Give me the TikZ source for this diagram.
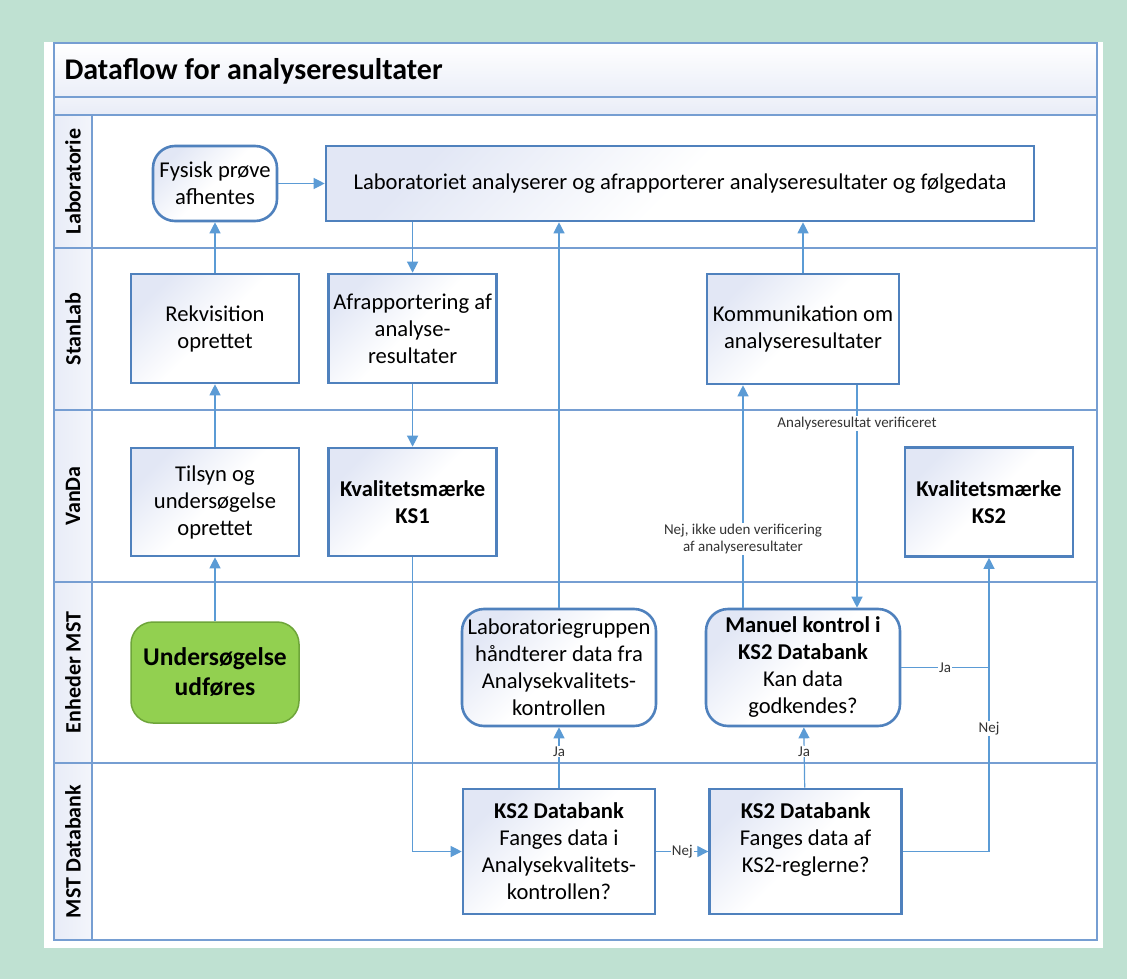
\documentclass[tikz,border=0pt]{standalone}
\usepackage{fontspec}
\setmainfont{Carlito}
\usepackage{tikz}
\usetikzlibrary{positioning,arrows.meta}
\newcommand{\boxfont}{\fontsize{22.6}{27}\selectfont}
\newcommand{\startfont}{\fontsize{25.5}{30}\selectfont}
\newcommand{\lanefont}{\fontsize{22}{26}\selectfont}
\newcommand{\titlefont}{\fontsize{30}{34}\selectfont}
\newcommand{\lblfont}{\fontsize{15}{17.5}\selectfont}
\newcommand{\definitions}{%
  % colour of the page behind the chart
  \definecolor{colBg}{RGB}{191,225,210}
  % colour of lane lines and frame
  \definecolor{colLane}{RGB}{118,158,210}
  % colour of box borders
  \definecolor{colBox}{RGB}{79,129,189}
  % colour of connectors
  \definecolor{colLine}{RGB}{91,155,213}
  % colour of box shading
  \definecolor{colShade}{RGB}{226,231,245}
  % colour of the start box
  \definecolor{colGreen}{RGB}{146,208,80}
  \definecolor{colGreenDraw}{RGB}{110,165,58}

  % corners of the chart frame
  \coordinate (tl) at (54,43);
  \coordinate (br) at (1097,940);
}
\tikzset{
  box/.style={draw=colBox, line width=2.6pt, top color=colShade, bottom color=white,
    middle color=white, shading angle=45, align=center, font=\boxfont, inner sep=2pt},
  roundbox/.style={box, rounded corners=22pt},
  startbox/.style={draw=colGreenDraw, fill=colGreen, line width=1.5pt,
    rounded corners=22pt, align=center, font=\bfseries\startfont},
  flow/.style={draw=colLine, line width=1.2pt, -{Triangle[length=11pt,width=11pt]}},
  link/.style={draw=colLine, line width=1.2pt},
  edgelbl/.style={fill=white, inner sep=1pt, font=\lblfont, text=black!80, align=center},
  lanelbl/.style={rotate=90, font=\bfseries\lanefont},
}

\begin{document}
\begin{tikzpicture}[x=1pt, y=-1pt]

  % define colors and frame
  \definitions

  % page, panel and frame
  \fill[colBg] (0,0) rectangle (1127,979);
  \fill[white] (44,42) rectangle (1103,948);
  \shade[top color=white, bottom color=colShade!70] (tl) rectangle (1097,97);
  \shade[top color=colShade!50, bottom color=colShade!80] (54,97) rectangle (1097,115);
  \shade[left color=colShade!80, right color=colShade!40] (54,115) rectangle (92,940);

  % lane lines
  \draw[colLane, line width=1.2pt] (tl) rectangle (br);
  \foreach \y in {97,115,248,410,582,763}
    \draw[colLane, line width=1.2pt] (54,\y) -- (1097,\y);
  \draw[colLane, line width=1.2pt] (92,115) -- (92,940);

  % add title and lane label for each lane
  \node[font=\bfseries\titlefont, anchor=west] (title) at (61,71) {Dataflow for analyseresultater};
  \node[lanelbl] (laneLab) at (73,181.5) {Laboratorie};
  \node[lanelbl] (laneStan) at (73,329) {StanLab};
  \node[lanelbl] (laneVanDa) at (73,496) {VanDa};
  \node[lanelbl] (laneMST) at (73,672.5) {Enheder MST};
  \node[lanelbl] (laneDB) at (73,851.5) {MST Databank};

  % boxes in the Laboratorie lane
  \node[roundbox, minimum width=124pt, minimum height=75pt] (fysisk) at (215,183.5) {Fysisk prøve\\afhentes};
  \node[box, minimum width=708pt, minimum height=75pt] (lab) at (680,183.5)
    {Laboratoriet analyserer og afrapporterer analyseresultater og følgedata};

  % boxes in the StanLab lane
  \node[box, minimum width=168pt, minimum height=109pt] (rekv) at (215,328.5) {Rekvisition\\oprettet};
  \node[box, minimum width=168pt, minimum height=109pt] (afrap) [right=27pt of rekv] {Afrapportering af\\analyse-\\resultater};
  \node[box, minimum width=192pt, minimum height=110pt] (komm) at (803,329) {Kommunikation om\\analyseresultater};

  % boxes in the VanDa lane
  \node[box, minimum width=168pt, minimum height=108pt] (tilsyn) at (215,502) {Tilsyn og\\undersøgelse\\oprettet};
  \node[box, minimum width=168pt, minimum height=108pt, font=\bfseries\boxfont] (ks1) [right=27pt of tilsyn] {Kvalitetsmærke\\KS1};
  \node[box, minimum width=168pt, minimum height=109pt, font=\bfseries\boxfont] (ks2) at (989,502) {Kvalitetsmærke\\KS2};

  % boxes in the Enheder MST lane
  \node[startbox, minimum width=168pt, minimum height=101pt] (unders) at (215,672.5) {Undersøgelse\\udføres};
  \node[roundbox, minimum width=194pt, minimum height=117pt] (labgrp) at (559,667.5)
    {Laboratoriegruppen\\håndterer data fra\\Analysekvalitets-\\kontrollen};
  \node[roundbox, minimum width=194pt, minimum height=117pt] (manuel) at (803,667.5)
    {\textbf{Manuel kontrol i}\\\textbf{KS2 Databank}\\Kan data\\godkendes?};

  % boxes in the MST Databank lane
  \node[box, minimum width=192pt, minimum height=125pt] (db1) at (559,851.5)
    {\textbf{KS2 Databank}\\Fanges data i\\Analysekvalitets-\\kontrollen?};
  \node[box, minimum width=192pt, minimum height=125pt] (db2) [right=52pt of db1]
    {\textbf{KS2 Databank}\\Fanges data af\\KS2-reglerne?\\\mbox{}};

  % connectors
  \draw[flow] (fysisk) -- (lab);
  \draw[flow] (rekv) -- (fysisk);
  \draw[flow] (tilsyn) -- (rekv);
  \draw[flow] (unders) -- (tilsyn);
  \draw[flow] (afrap.north |- lab.south) -- (afrap);
  \draw[flow] (afrap) -- (ks1);
  \draw[flow] (ks1.south) |- (db1.west);
  \draw[flow] (db1) -- node[edgelbl, pos=0.6] (jaLab) {Ja} (labgrp);
  \draw[flow] (labgrp.north) -- (labgrp.north |- lab.south);
  \draw[flow] (db1) -- node[edgelbl] (nejDb) {Nej} (db2);
  \draw[flow] (db2) -- node[edgelbl, pos=0.6] (jaMan) {Ja} (manuel);
  \draw[flow] (db2.east) -| node[edgelbl, pos=0.71] (nejKs) {Nej} (ks2.south);
  \draw[link] (manuel.east) -- node[edgelbl] (jaKs) {Ja} (manuel.east -| ks2.south);
  \draw[flow] ([xshift=-60pt]manuel.north) -- node[edgelbl, pos=0.31] (nejKomm)
    {Nej, ikke uden verificering\\af analyseresultater} ([xshift=-60pt]komm.south);
  \draw[flow] ([xshift=54pt]komm.south) -- node[edgelbl, pos=0.17] (verif)
    {Analyseresultat verificeret} ([xshift=54pt]manuel.north);
  \draw[flow] (komm.north) -- (komm.north |- lab.south);

\end{tikzpicture}
\end{document}
